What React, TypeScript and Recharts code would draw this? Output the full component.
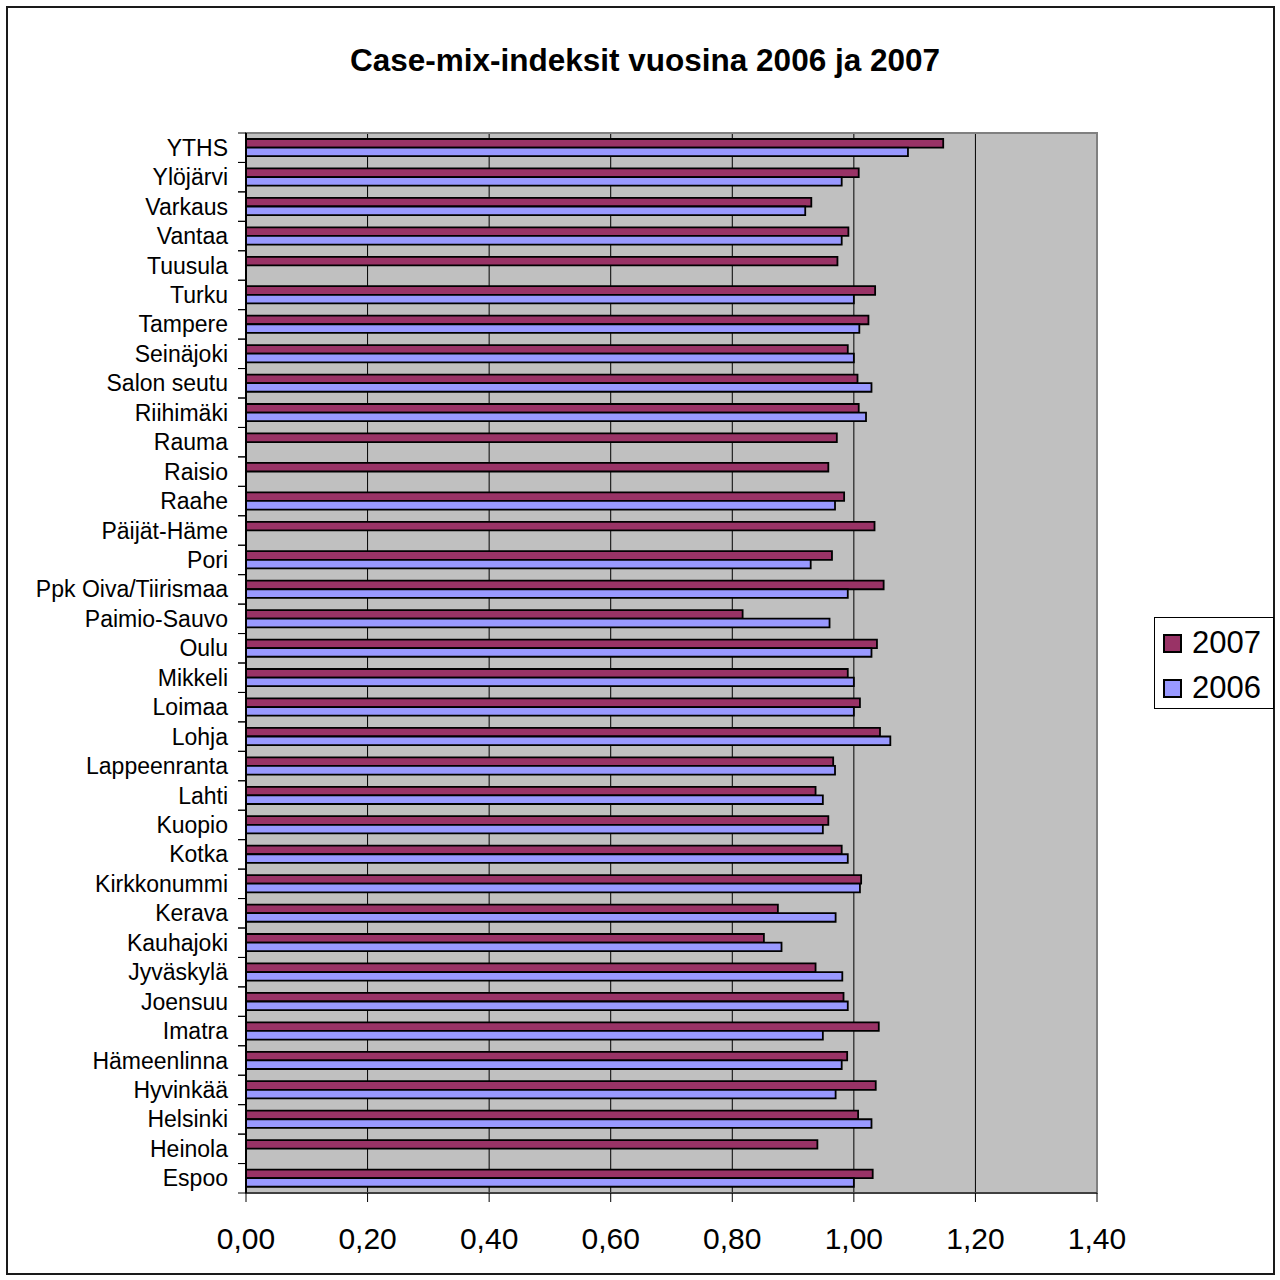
import React from "react";
import { BarChart, Bar, XAxis, YAxis, CartesianGrid, ReferenceArea } from "recharts";

const categories = [
  "Espoo", "Heinola", "Helsinki", "Hyvinkää", "Hämeenlinna", "Imatra", "Joensuu", "Jyväskylä",
  "Kauhajoki", "Kerava", "Kirkkonummi", "Kotka", "Kuopio", "Lahti", "Lappeenranta", "Lohja",
  "Loimaa", "Mikkeli", "Oulu", "Paimio-Sauvo", "Ppk Oiva/Tiirismaa", "Pori", "Päijät-Häme",
  "Raahe", "Raisio", "Rauma", "Riihimäki", "Salon seutu", "Seinäjoki", "Tampere", "Turku",
  "Tuusula", "Vantaa", "Varkaus", "Ylöjärvi", "YTHS",
];

const values2007 = [
  1.031, 0.94, 1.007, 1.036, 0.989, 1.041, 0.983, 0.937,
  0.852, 0.875, 1.012, 0.98, 0.958, 0.937, 0.966, 1.043,
  1.01, 0.99, 1.038, 0.817, 1.049, 0.964, 1.034,
  0.984, 0.958, 0.972, 1.008, 1.006, 0.99, 1.024, 1.035,
  0.973, 0.991, 0.93, 1.008, 1.147,
];

const values2006 = [
  1.0, null, 1.029, 0.97, 0.98, 0.949, 0.99, 0.981,
  0.881, 0.97, 1.01, 0.99, 0.949, 0.949, 0.969, 1.06,
  1.0, 1.0, 1.029, 0.96, 0.99, 0.929, null,
  0.969, null, null, 1.02, 1.029, 1.0, 1.009, 1.0,
  null, 0.98, 0.92, 0.98, 1.089,
];

const xTicks = [0, 0.2, 0.4, 0.6, 0.8, 1.0, 1.2, 1.4];
const seriesNames = ["2007", "2006"];

const data = categories.map((name, i) => ({
  name,
  v2007: values2007[i],
  v2006: values2006[i],
}));

const FONT = "'Liberation Sans', Arial, sans-serif";
const COLOR_2007 = "#993366";
const COLOR_2006 = "#9999FF";

const PLOT_TOP = 133;
const PLOT_BOTTOM = 1193;
const BAND_HALF = (PLOT_BOTTOM - PLOT_TOP) / categories.length / 2;

const YTick = (props: any) => {
  const { x, y, payload } = props;
  return (
    <g>
      <line x1={x - 8} x2={x} y1={y - BAND_HALF} y2={y - BAND_HALF} stroke="#000" strokeWidth={1} />
      <line x1={x - 8} x2={x} y1={y + BAND_HALF} y2={y + BAND_HALF} stroke="#000" strokeWidth={1} />
      <text x={x - 18} y={y} dy="0.35em" textAnchor="end" fontSize={23} fontFamily={FONT} fill="#000">
        {payload.value}
      </text>
    </g>
  );
};

export default function App() {
  return (
    <div style={{ position: "absolute", left: 0, top: 0, width: 1280, height: 1280, background: "#fff", fontFamily: FONT }}>
      <div
        style={{
          position: "absolute",
          left: 6,
          top: 6,
          width: 1269,
          height: 1269,
          border: "2px solid #1a1a1a",
          boxSizing: "border-box",
        }}
      />
      <div
        style={{
          position: "absolute",
          left: 0,
          width: 1290,
          top: 40,
          textAlign: "center",
          fontSize: 31.5,
          fontWeight: "bold",
          color: "#000",
          lineHeight: "40px",
        }}
      >
        Case-mix-indeksit vuosina 2006 ja 2007
      </div>
      <div style={{ position: "absolute", left: 0, top: 0 }}>
        <BarChart
          width={1280}
          height={1280}
          data={data}
          layout="vertical"
          margin={{ top: PLOT_TOP, right: 183, bottom: 1280 - PLOT_BOTTOM - 60, left: 0 }}
          barSize={8.6}
          barGap={0}
        >
          <CartesianGrid horizontal={false} vertical={true} stroke="#000" fill="#C0C0C0" fillOpacity={1} />
          <XAxis
            type="number"
            domain={[0, 1.4]}
            ticks={xTicks}
            interval={0}
            height={60}
            tickSize={9}
            tickMargin={26}
            axisLine={{ stroke: "#404040", strokeWidth: 2 }}
            tickLine={{ stroke: "#000" }}
            tick={{ fontSize: 30, fill: "#000", fontFamily: FONT }}
            tickFormatter={(v: number) => v.toFixed(2).replace(".", ",")}
            allowDataOverflow
          />
          <YAxis
            type="category"
            dataKey="name"
            reversed
            width={246}
            interval={0}
            tickLine={false}
            tickSize={0}
            tickMargin={0}
            axisLine={{ stroke: "#000", strokeWidth: 2 }}
            tick={<YTick />}
          />
          <ReferenceArea x1={0} x2={1.4} fill="none" stroke="#808080" strokeWidth={2} ifOverflow="visible" />
          <Bar dataKey="v2007" name={seriesNames[0]} fill={COLOR_2007} stroke="#000" strokeWidth={1.8} isAnimationActive={false} />
          <Bar dataKey="v2006" name={seriesNames[1]} fill={COLOR_2006} stroke="#000" strokeWidth={1.8} isAnimationActive={false} />
        </BarChart>
      </div>
      <div
        style={{
          position: "absolute",
          left: 1154,
          top: 617,
          width: 120,
          height: 92,
          border: "1px solid #000",
          boxSizing: "border-box",
          background: "#fff",
        }}
      >
        {seriesNames.map((s, i) => (
          <div
            key={s}
            style={{ position: "absolute", left: 8, top: i === 0 ? 10 : 55, height: 30, display: "flex", alignItems: "center" }}
          >
            <div
              style={{
                width: 19,
                height: 19,
                background: i === 0 ? COLOR_2007 : COLOR_2006,
                border: "2px solid #000",
                boxSizing: "border-box",
                marginRight: 10,
              }}
            />
            <span style={{ fontSize: 31, color: "#000", lineHeight: "30px" }}>{s}</span>
          </div>
        ))}
      </div>
    </div>
  );
}
